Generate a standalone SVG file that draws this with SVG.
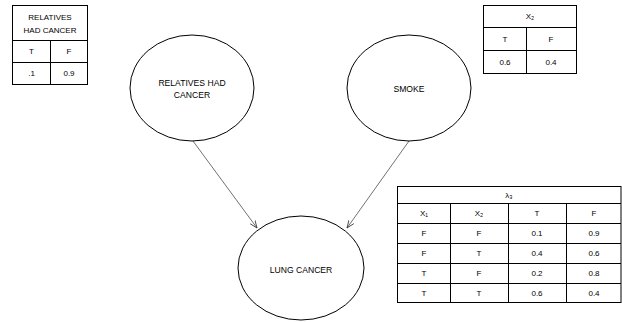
<svg xmlns="http://www.w3.org/2000/svg" width="622" height="322" viewBox="0 0 622 322">
<defs>
<style>
text{font-family:"Liberation Sans",Arial,sans-serif;fill:#000;text-anchor:middle;dominant-baseline:central}
.n{font-size:8.6px}
.t{font-size:8px}
.e{fill:#fff;stroke:#000;stroke-width:1}
.g{fill:none;stroke:#000;stroke-width:1}
.c{fill:none;stroke:#333;stroke-width:0.7}
</style>
<marker id="ah" viewBox="0 0 8 8" refX="7.5" refY="4" markerWidth="8" markerHeight="8" markerUnits="userSpaceOnUse" orient="auto">
<path d="M0,1 L7.5,4 L0,7" fill="none" stroke="#333" stroke-width="0.8"/>
</marker>
</defs>
<rect width="622" height="322" fill="#fff"/>
<g id="connectors">
<line class="c" x1="193" y1="141" x2="257" y2="228" marker-end="url(#ah)"/>
<line class="c" x1="409" y1="141" x2="347" y2="228" marker-end="url(#ah)"/>
</g>
<g id="relatives">
<ellipse class="e" cx="192" cy="88" rx="62" ry="53"/>
<text class="n" x="192" y="83">RELATIVES HAD</text>
<text class="n" x="192" y="95">CANCER</text>
</g>
<g id="smoke">
<ellipse class="e" cx="409" cy="88" rx="62" ry="53"/>
<text class="n" x="409" y="89">SMOKE</text>
</g>
<g id="lungcancer">
<ellipse class="e" cx="301" cy="268" rx="63" ry="52"/>
<text class="n" x="301" y="270">LUNG CANCER</text>
</g>
<g id="table-relatives">
<rect class="g" x="12.5" y="5.5" width="75" height="79"/>
<line class="g" x1="12.5" y1="40.5" x2="87.5" y2="40.5"/>
<line class="g" x1="12.5" y1="62.5" x2="87.5" y2="62.5"/>
<line class="g" x1="50.5" y1="40.5" x2="50.5" y2="84.5"/>
<text class="t" x="50" y="17">RELATIVES</text>
<text class="t" x="50" y="30">HAD CANCER</text>
<text class="t" x="31.5" y="51.5">T</text>
<text class="t" x="69" y="51.5">F</text>
<text class="t" x="31.5" y="73.5">.1</text>
<text class="t" x="69" y="73.5">0.9</text>
</g>
<g id="table-smoke">
<rect class="g" x="483.5" y="5.5" width="93" height="68"/>
<line class="g" x1="483.5" y1="27.5" x2="576.5" y2="27.5"/>
<line class="g" x1="483.5" y1="50.5" x2="576.5" y2="50.5"/>
<line class="g" x1="526.5" y1="27.5" x2="526.5" y2="73.5"/>
<text class="t" x="530" y="16.5">X₂</text>
<text class="t" x="505" y="39">T</text>
<text class="t" x="551" y="39">F</text>
<text class="t" x="505" y="62">0.6</text>
<text class="t" x="551" y="62">0.4</text>
</g>
<g id="table-lung">
<rect class="g" x="397.5" y="186.5" width="223.5" height="116"/>
<line class="g" x1="397.5" y1="203.5" x2="621" y2="203.5"/>
<line class="g" x1="397.5" y1="223.5" x2="621" y2="223.5"/>
<line class="g" x1="397.5" y1="243.5" x2="621" y2="243.5"/>
<line class="g" x1="397.5" y1="263.5" x2="621" y2="263.5"/>
<line class="g" x1="397.5" y1="283.5" x2="621" y2="283.5"/>
<line class="g" x1="450.5" y1="203.5" x2="450.5" y2="302.5"/>
<line class="g" x1="508.5" y1="203.5" x2="508.5" y2="302.5"/>
<line class="g" x1="566.5" y1="203.5" x2="566.5" y2="302.5"/>
<text class="t" x="509" y="195">λ₃</text>
<text class="t" x="424" y="213.5">X₁</text>
<text class="t" x="479" y="213.5">X₂</text>
<text class="t" x="537" y="213.5">T</text>
<text class="t" x="594" y="213.5">F</text>
<text class="t" x="424" y="233.5">F</text>
<text class="t" x="479" y="233.5">F</text>
<text class="t" x="537" y="233.5">0.1</text>
<text class="t" x="594" y="233.5">0.9</text>
<text class="t" x="424" y="253.5">F</text>
<text class="t" x="479" y="253.5">T</text>
<text class="t" x="537" y="253.5">0.4</text>
<text class="t" x="594" y="253.5">0.6</text>
<text class="t" x="424" y="273.5">T</text>
<text class="t" x="479" y="273.5">F</text>
<text class="t" x="537" y="273.5">0.2</text>
<text class="t" x="594" y="273.5">0.8</text>
<text class="t" x="424" y="293">T</text>
<text class="t" x="479" y="293">T</text>
<text class="t" x="537" y="293">0.6</text>
<text class="t" x="594" y="293">0.4</text>
</g>
</svg>
